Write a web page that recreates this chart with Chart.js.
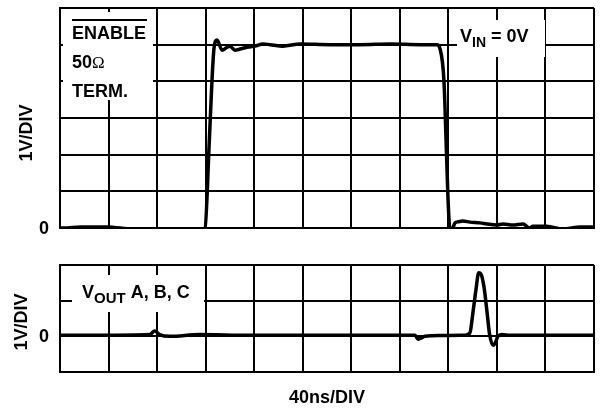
<!DOCTYPE html>
<html>
<head>
<meta charset="utf-8">
<script src="https://cdn.jsdelivr.net/npm/chart.js@4/dist/chart.umd.min.js"></script>
<style>
  html, body { margin: 0; padding: 0; background: #fff; }
  #wrap { position: relative; width: 602px; height: 409px; }
  #wrap canvas { position: absolute; left: 0; top: 0; }
</style>
</head>
<body>
<div id="wrap">
  <canvas id="enableTrace" width="602" height="409"></canvas>
  <canvas id="outputTrace" width="602" height="409"></canvas>
</div>
<script>
// Time axis: 40 ns per division, 11 divisions
const timeTicks = { min: 0, max: 440, step: 40 };

// ENABLE waveform (ns, volts), 50 ohm termination
const enableTime = [0, 3, 17, 39, 60, 79, 99, 118, 119.5, 122.8,
  125.2, 126.9, 129.4, 133.5, 137.6, 140, 144.2, 148.3, 154, 160.7,
  167.3, 173, 183.7, 197.8, 222.5, 247, 272, 296.6, 310.6, 313,
  316.4, 318, 319.7, 321.4, 323, 325.5, 328, 332, 337.8, 346,
  351.8, 356.8, 360, 365, 373, 381.5, 387, 389.7, 401, 414.5,
  428.5, 440];
const enableVolts = [0, 0, 0.03, 0.03, -0.03, -0.03, -0.03, -0.02, 0, 2.2,
  4.0, 4.9, 5.13, 4.85, 4.93, 4.96, 4.85, 4.88, 4.93, 4.96,
  5.02, 5.0, 4.96, 5.02, 5.0, 5.0, 5.02, 5.0, 5.0, 4.9,
  4.0, 2.5, 0.8, -0.05, -0.04, 0.14, 0.17, 0.19, 0.16, 0.14,
  0.11, 0.09, 0.08, 0.11, 0.08, 0.11, 0.0, 0.05, 0.05, -0.03,
  0.03, 0.03];

// Outputs A, B, C (ns, volts)
const outputTime = [0, 33, 74, 78, 82, 90.6, 115, 156.5, 197.8, 239,
  280, 292.5, 295, 297.4, 300.7, 313, 333.7, 337.8, 340, 342.7,
  345, 346.8, 349.3, 351.8, 354, 356.8, 358.4, 360.9, 364, 370.8,
  440];
const outputVolts = [0.03, 0.03, 0.05, 0.15, 0.05, 0.0, 0.05, 0.03, 0.03, 0.03,
  0.03, 0.03, -0.08, -0.05, 0.0, 0.02, 0.03, 0.1, 0.6, 1.3,
  1.78, 1.75, 1.4, 0.7, 0.05, -0.25, -0.2, 0.0, 0.05, 0.03,
  0.03];

// Vertical ranges, 1 V per division
const enableRange = { min: 0, max: 6 };
const outputRange = { min: -1, max: 2 };

const BOLD = '"Liberation Sans", Arial, Helvetica, sans-serif';

function toPoints(xs, ys) {
  return xs.map((x, i) => ({ x: x, y: ys[i] }));
}

function gridScale(lo, hi, step, horizontal) {
  return {
    type: 'linear',
    min: lo, max: hi,
    afterFit: (s) => { if (horizontal) s.height = 0; else s.width = 0; },
    ticks: { display: false, stepSize: step },
    grid: { color: '#000', lineWidth: 2, drawTicks: false },
    border: { display: true, color: '#000', width: 2 }
  };
}

function drawRichLabel(ctx, x, base, parts) {
  // parts: [text, fontSize, baselineShift, family, weight]
  let cx = x;
  ctx.textAlign = 'left';
  ctx.textBaseline = 'alphabetic';
  ctx.fillStyle = '#000';
  parts.forEach(([txt, size, shift, family, weight]) => {
    ctx.font = (weight || 'bold') + ' ' + size + 'px ' + (family || BOLD);
    ctx.fillText(txt, cx, base + shift);
    cx += ctx.measureText(txt).width;
  });
}

function sideLabels(ctx, chart, titleX, titleY) {
  const y0 = chart.scales.y.getPixelForValue(0);
  ctx.save();
  ctx.fillStyle = '#000';
  ctx.font = 'bold 18px ' + BOLD;
  ctx.textAlign = 'center';
  ctx.textBaseline = 'middle';
  ctx.fillText('0', 44, y0 + 1);
  ctx.translate(titleX, titleY);
  ctx.rotate(-Math.PI / 2);
  ctx.fillText('1V/DIV', 0, 1);
  ctx.restore();
}

const enableLabels = {
  id: 'enableLabels',
  beforeDatasetsDraw(chart) {
    const ctx = chart.ctx;
    ctx.save();
    ctx.fillStyle = '#fff';
    ctx.fillRect(63, 12, 90, 88);
    ctx.fillRect(457, 20, 88, 37);
    // overbar on ENABLE
    ctx.strokeStyle = '#000';
    ctx.lineWidth = 2;
    ctx.beginPath();
    ctx.moveTo(72, 20);
    ctx.lineTo(147, 20);
    ctx.stroke();
    drawRichLabel(ctx, 72, 39, [['ENABLE', 18, 0]]);
    drawRichLabel(ctx, 72, 68, [['50', 18, 0], ['\u03A9', 17, 0, '"Liberation Serif", "Times New Roman", serif', 'normal']]);
    drawRichLabel(ctx, 72, 97, [['TERM.', 18, 0]]);
    drawRichLabel(ctx, 460, 42, [['V', 18, 0], ['IN', 14, 5], [' = 0V', 18, 0]]);
    ctx.restore();
  },
  afterDraw(chart) {
    sideLabels(chart.ctx, chart, 26, 133);
  }
};

const outputLabels = {
  id: 'outputLabels',
  beforeDatasetsDraw(chart) {
    const ctx = chart.ctx;
    ctx.save();
    ctx.fillStyle = '#fff';
    ctx.fillRect(72, 275, 132, 37);
    drawRichLabel(ctx, 82, 298, [['V', 18, 0], ['OUT', 15, 5], [' A, B, C', 18, 0]]);
    ctx.restore();
  },
  afterDraw(chart) {
    const ctx = chart.ctx;
    sideLabels(ctx, chart, 21, 322);
    ctx.save();
    ctx.fillStyle = '#000';
    ctx.font = 'bold 18px ' + BOLD;
    ctx.textAlign = 'center';
    ctx.textBaseline = 'alphabetic';
    const xs = chart.scales.x;
    ctx.fillText('40ns/DIV', (xs.left + xs.right) / 2, 403);
    ctx.restore();
  }
};

function traceChart(id, xs, ys, range, padding, plugin) {
  return new Chart(document.getElementById(id), {
    type: 'line',
    data: {
      datasets: [{
        data: toPoints(xs, ys),
        borderColor: '#000',
        borderWidth: 3.5,
        pointRadius: 0,
        cubicInterpolationMode: 'monotone',
        fill: false
      }]
    },
    options: {
      responsive: false,
      animation: false,
      layout: { padding: padding },
      plugins: { legend: { display: false }, tooltip: { enabled: false } },
      scales: {
        x: gridScale(timeTicks.min, timeTicks.max, timeTicks.step, true),
        y: gridScale(range.min, range.max, 1, false)
      }
    },
    plugins: [plugin]
  });
}

traceChart('enableTrace', enableTime, enableVolts, enableRange,
  { left: 60, right: 8, top: 8, bottom: 181 }, enableLabels);
traceChart('outputTrace', outputTime, outputVolts, outputRange,
  { left: 60, right: 8, top: 265, bottom: 37 }, outputLabels);
</script>
</body>
</html>
